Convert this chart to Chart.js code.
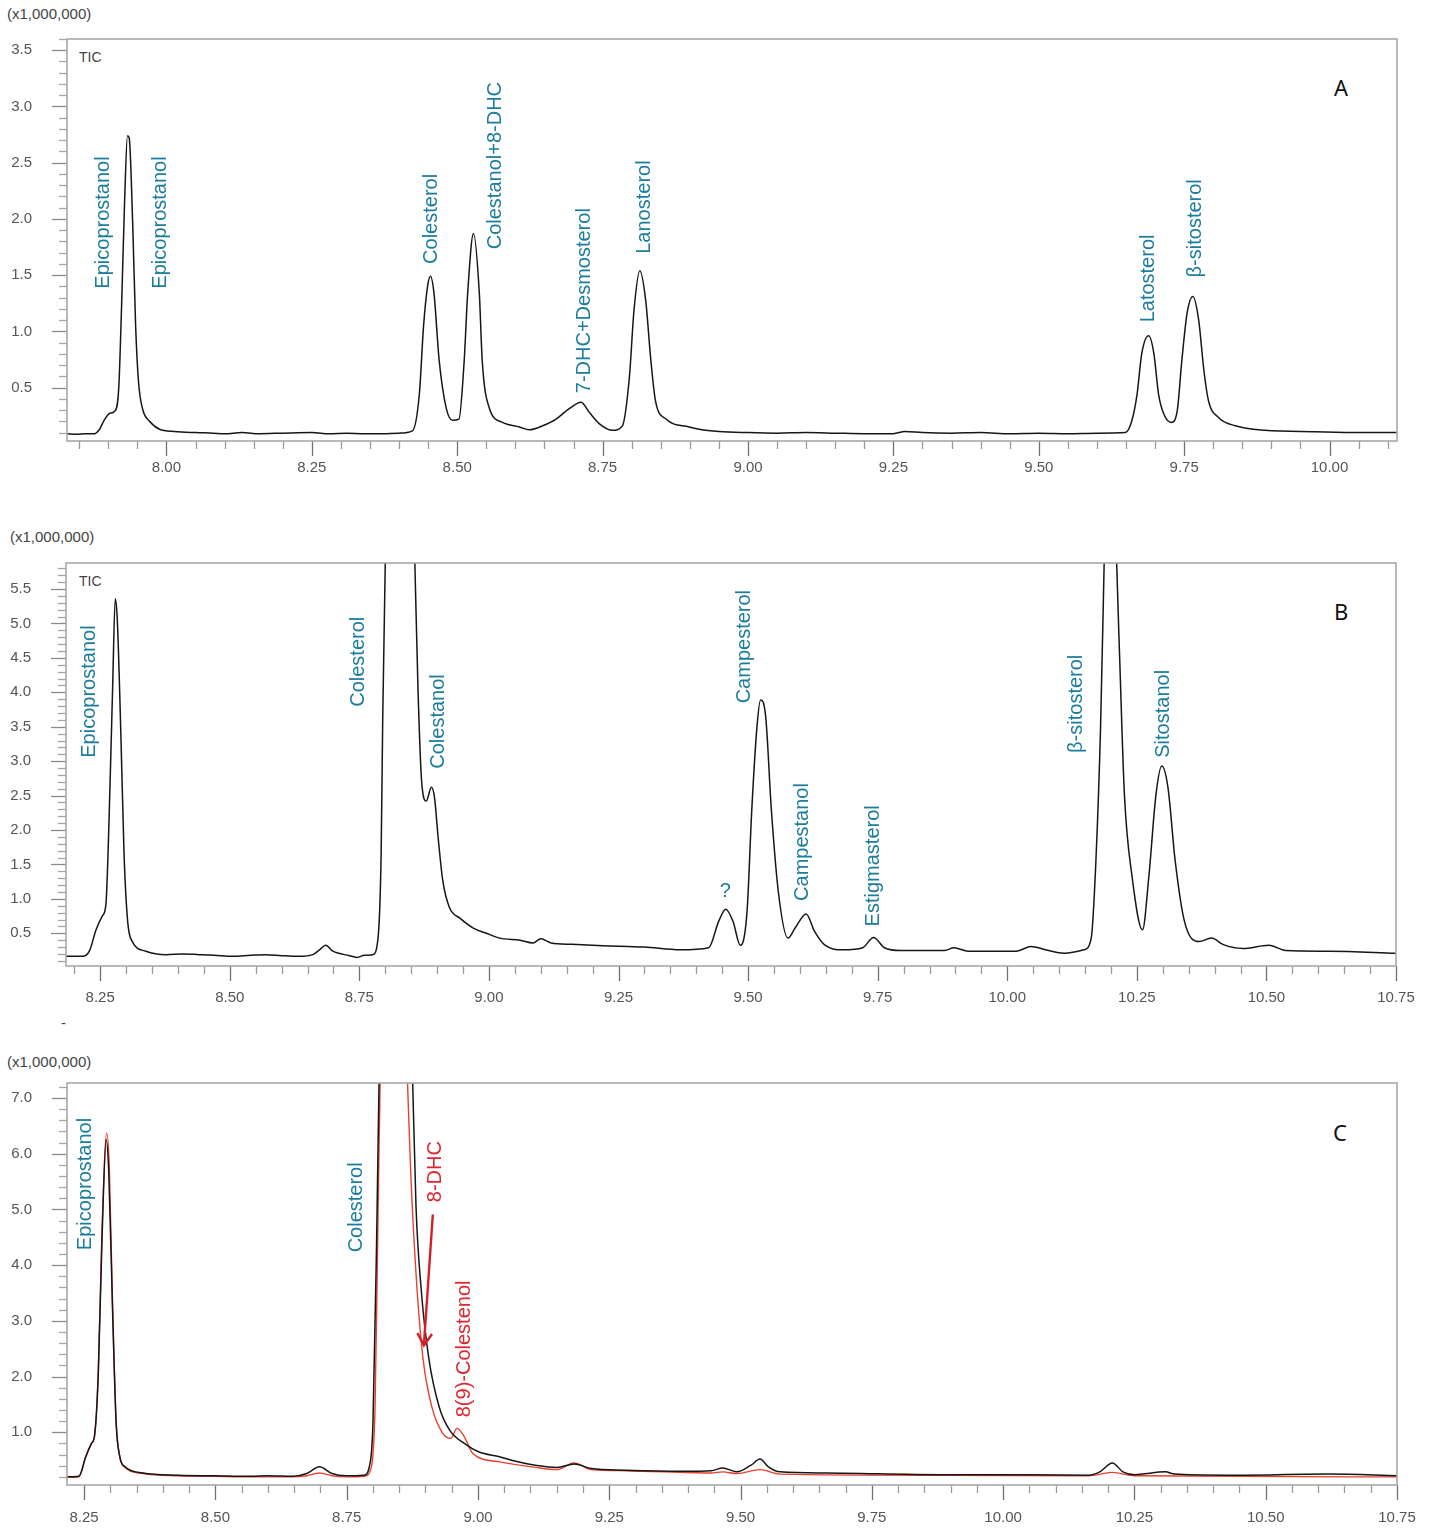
<!DOCTYPE html>
<html>
<head>
<meta charset="utf-8">
<script src="https://cdn.jsdelivr.net/npm/chart.js@4.4.1/dist/chart.umd.min.js"></script>
<style>
  body { margin: 0; background: #fff; width: 1434px; height: 1528px; position: relative; overflow: hidden;
         font-family: "Liberation Sans", Arial, sans-serif; }
  canvas { position: absolute; left: 0; }
  .unit { position: absolute; font-size: 15px; line-height: 18px; color: #444; }
  .tic { position: absolute; font-size: 14px; line-height: 16px; color: #444; }
  .tag { position: absolute; font-family: "Noto Sans", sans-serif; font-size: 22px; line-height: 26px; color: #111; }
</style>
</head>
<body>
<div class="unit" style="left:7px; top:5px;">(x1,000,000)</div>
<div class="unit" style="left:10px; top:528px;">(x1,000,000)</div>
<div class="unit" style="left:7px; top:1053px;">(x1,000,000)</div>
<div class="unit" style="left:61px; top:1014px;">-</div>
<div class="tic" style="left:79px; top:49px;">TIC</div>
<div class="tic" style="left:79px; top:573px;">TIC</div>
<div class="tag" style="left:1334px; top:74px;">A</div>
<div class="tag" style="left:1334px; top:598px;">B</div>
<div class="tag" style="left:1333px; top:1119px;">C</div>

<canvas id="chartA" width="1434" height="510" style="top:0px;"></canvas>
<canvas id="chartB" width="1434" height="510" style="top:520px;"></canvas>
<canvas id="chartC" width="1434" height="488" style="top:1040px;"></canvas>

<script>
// Panel A - TIC (retention time in min, intensity x1,000,000)
const timeA = [7.829, 7.845, 7.860, 7.876, 7.885, 7.893, 7.902, 7.911, 7.918, 7.923, 7.928, 7.933, 7.936,
  7.942, 7.947, 7.952, 7.959, 7.971, 7.988, 8.014, 8.05, 8.08, 8.10, 8.13, 8.16, 8.20, 8.25, 8.28, 8.31,
  8.34, 8.366, 8.40, 8.423, 8.435, 8.442, 8.449, 8.454, 8.460, 8.469, 8.481, 8.492, 8.503, 8.512, 8.518,
  8.528, 8.538, 8.543, 8.555, 8.578, 8.607, 8.624, 8.647, 8.660, 8.670, 8.692, 8.713, 8.727, 8.744, 8.767,
  8.784, 8.796, 8.804, 8.814, 8.824, 8.833, 8.841, 8.859, 8.899, 8.916, 8.95, 9.00, 9.05, 9.10, 9.15, 9.20,
  9.25, 9.27, 9.30, 9.35, 9.40, 9.45, 9.50, 9.55, 9.60, 9.649, 9.660, 9.669, 9.677, 9.689, 9.698, 9.706,
  9.715, 9.728, 9.738, 9.746, 9.755, 9.765, 9.775, 9.784, 9.792, 9.809, 9.838, 9.889, 9.975, 10.05, 10.116];
const ticA = [0.09, 0.085, 0.09, 0.09, 0.13, 0.21, 0.27, 0.29, 0.50, 1.25, 2.15, 2.74, 2.72,
  1.95, 1.05, 0.55, 0.31, 0.20, 0.13, 0.11, 0.10, 0.095, 0.09, 0.10, 0.09, 0.095, 0.10, 0.09, 0.095,
  0.09, 0.09, 0.095, 0.115, 0.45, 1.04, 1.40, 1.49, 1.34, 0.74, 0.32, 0.21, 0.22, 0.74, 1.34,
  1.87, 1.34, 0.74, 0.32, 0.19, 0.15, 0.125, 0.16, 0.19, 0.22, 0.31, 0.37, 0.28, 0.18, 0.12,
  0.16, 0.59, 1.19, 1.54, 1.28, 0.74, 0.38, 0.22, 0.15, 0.13, 0.11, 0.10, 0.095, 0.10, 0.095, 0.09,
  0.09, 0.11, 0.10, 0.095, 0.10, 0.09, 0.095, 0.09, 0.095, 0.10, 0.205, 0.44, 0.80, 0.96, 0.80, 0.44,
  0.265, 0.19, 0.29, 0.74, 1.16, 1.31, 1.10, 0.65, 0.38, 0.235, 0.16, 0.12, 0.107, 0.10, 0.10];

// Panel B - TIC
const timeB = [8.184, 8.216, 8.229, 8.242, 8.254, 8.261, 8.267, 8.274, 8.279, 8.283, 8.290, 8.296, 8.303,
  8.312, 8.338, 8.377, 8.41, 8.441, 8.47, 8.506, 8.54, 8.570, 8.60, 8.634, 8.660, 8.673, 8.685, 8.699,
  8.731, 8.745, 8.760, 8.776, 8.786, 8.792, 8.795, 8.800, 8.806, 8.815, 8.828, 8.842, 8.851, 8.857, 8.863,
  8.870, 8.879, 8.889, 8.895, 8.902, 8.911, 8.924, 8.944, 8.969, 8.995, 9.021, 9.06, 9.085, 9.10, 9.12,
  9.16, 9.22, 9.30, 9.369, 9.424, 9.443, 9.457, 9.471, 9.485, 9.498, 9.507, 9.517, 9.524, 9.534, 9.545,
  9.559, 9.577, 9.591, 9.612, 9.628, 9.647, 9.684, 9.721, 9.742, 9.763, 9.795, 9.879, 9.897, 9.925,
  10.018, 10.046, 10.074, 10.110, 10.148, 10.162, 10.171, 10.180, 10.187, 10.193, 10.199, 10.205, 10.211,
  10.217, 10.226, 10.241, 10.261, 10.273, 10.287, 10.298, 10.310, 10.324, 10.342, 10.370, 10.394, 10.417,
  10.454, 10.505, 10.537, 10.621, 10.751];
const ticB = [0.165, 0.165, 0.24, 0.55, 0.75, 0.92, 2.13, 4.08, 5.36, 5.05, 3.35, 1.65, 0.67,
  0.38, 0.24, 0.19, 0.20, 0.19, 0.18, 0.165, 0.18, 0.19, 0.175, 0.165, 0.19, 0.26, 0.325, 0.24,
  0.175, 0.15, 0.18, 0.19, 0.43, 1.65, 3.59, 5.9, 7.6, 8.8, 9.3, 8.8, 7.6, 5.9, 4.08,
  2.72, 2.42, 2.62, 2.47, 1.89, 1.26, 0.87, 0.72, 0.58, 0.50, 0.43, 0.40, 0.36, 0.42, 0.36,
  0.34, 0.32, 0.30, 0.26, 0.29, 0.67, 0.85, 0.67, 0.325, 0.82, 2.28, 3.49, 3.89, 3.64, 2.28,
  1.06, 0.43, 0.58, 0.78, 0.53, 0.335, 0.26, 0.29, 0.44, 0.29, 0.25, 0.25, 0.29, 0.24,
  0.24, 0.31, 0.26, 0.21, 0.26, 0.43, 1.55, 3.49, 5.9, 8.0, 9.0, 8.0, 5.9,
  4.47, 2.52, 1.31, 0.55, 1.31, 2.52, 2.93, 2.62, 1.55, 0.67, 0.38, 0.43, 0.335,
  0.28, 0.325, 0.25, 0.24, 0.21];

// Panel C - black and red traces
const timeCBlack = [8.217, 8.240, 8.253, 8.264, 8.270, 8.277, 8.284, 8.292, 8.297, 8.304, 8.311, 8.318,
  8.328, 8.362, 8.430, 8.498, 8.566, 8.60, 8.647, 8.674, 8.698, 8.722, 8.749, 8.783, 8.793, 8.800, 8.807,
  8.812, 8.825, 8.844, 8.862, 8.875, 8.882, 8.892, 8.906, 8.926, 8.946, 8.974, 9.001, 9.041, 9.076, 9.109,
  9.150, 9.183, 9.216, 9.281, 9.390, 9.444, 9.466, 9.493, 9.520, 9.537, 9.553, 9.575, 9.662, 9.880,
  10.05, 10.162, 10.184, 10.208, 10.228, 10.250, 10.309, 10.326, 10.424, 10.620, 10.750];
const ticCBlack = [0.20, 0.21, 0.56, 0.80, 0.95, 2.05, 4.45, 6.25, 5.65, 3.25, 1.16, 0.56,
  0.38, 0.27, 0.23, 0.22, 0.21, 0.22, 0.21, 0.26, 0.38, 0.26, 0.22, 0.23, 0.38, 1.16, 4.45,
  7.5, 11.0, 12.5, 11.0, 7.5, 5.05, 3.55, 2.35, 1.46, 1.04, 0.80, 0.65, 0.56, 0.47, 0.41,
  0.37, 0.43, 0.35, 0.32, 0.30, 0.31, 0.36, 0.29, 0.41, 0.52, 0.38, 0.29, 0.27, 0.24,
  0.24, 0.23, 0.29, 0.45, 0.29, 0.24, 0.29, 0.25, 0.23, 0.25, 0.22];
const timeCRed = [8.217, 8.240, 8.253, 8.264, 8.270, 8.277, 8.284, 8.293, 8.298, 8.304, 8.311, 8.318,
  8.328, 8.362, 8.430, 8.498, 8.566, 8.647, 8.674, 8.698, 8.722, 8.749, 8.783, 8.797, 8.804, 8.809,
  8.814, 8.830, 8.845, 8.858, 8.865, 8.872, 8.882, 8.895, 8.912, 8.933, 8.948, 8.960, 8.974, 8.990,
  9.041, 9.109, 9.150, 9.183, 9.216, 9.281, 9.444, 9.466, 9.493, 9.537, 9.575, 9.880, 10.162, 10.208,
  10.250, 10.750];
const ticCRed = [0.19, 0.20, 0.55, 0.80, 0.95, 2.10, 4.60, 6.37, 5.75, 3.35, 1.20, 0.56,
  0.37, 0.26, 0.22, 0.21, 0.20, 0.20, 0.22, 0.27, 0.22, 0.20, 0.21, 0.38, 1.46, 4.45,
  7.5, 11.5, 12.0, 9.5, 7.5, 5.65, 3.85, 2.35, 1.46, 0.98, 0.89, 1.07, 0.92, 0.62,
  0.47, 0.37, 0.33, 0.45, 0.33, 0.31, 0.27, 0.29, 0.26, 0.33, 0.25, 0.23, 0.22, 0.28,
  0.22, 0.20];

// Peak names: [text, time of label column, intensity at label start, colour key]
const peaksA = [
  ['Epicoprostanol', 7.893, 1.38, 'teal'], ['Epicoprostanol', 7.990, 1.38, 'teal'],
  ['Colesterol', 8.457, 1.60, 'teal'], ['Colestanol+8-DHC', 8.567, 1.73, 'teal'],
  ['7-DHC+Desmosterol', 8.720, 0.45, 'teal'], ['Lanosterol', 8.823, 1.69, 'teal'],
  ['Latosterol', 9.689, 1.08, 'teal'], ['β-sitosterol', 9.770, 1.48, 'teal']
];
const peaksB = [
  ['Epicoprostanol', 8.231, 3.05, 'teal'], ['Colesterol', 8.750, 3.79, 'teal'],
  ['Colestanol', 8.903, 2.89, 'teal'], ['Campesterol', 9.494, 3.84, 'teal'],
  ['Campestanol', 9.606, 0.97, 'teal'], ['Estigmasterol', 9.743, 0.60, 'teal'],
  ['β-sitosterol', 10.134, 3.12, 'teal'], ['Sitostanol', 10.302, 3.05, 'teal']
];
const unknownB = ['?', 9.456, 1.11];
const peaksC = [
  ['Epicoprostanol', 8.254, 4.27, 'teal'], ['Colesterol', 8.769, 4.23, 'teal'],
  ['8-DHC', 8.920, 5.13, 'red'], ['8(9)-Colestenol', 8.975, 1.27, 'red']
];
const arrowC = { fromTime: 8.914, fromVal: 4.91, toTime: 8.897, toVal: 2.56 };

const COLORS = { teal: '#1b7d9c', red: '#e0262c' };
const FONT = '"Liberation Sans", Arial, sans-serif';

function toPoints(times, vals) {
  return times.map((t, i) => ({ x: t, y: vals[i] }));
}

function isMultiple(v, step) {
  return Math.abs(v / step - Math.round(v / step)) < 1e-6;
}

// frame, minor/major ticks and peak labels
const decorPlugin = {
  id: 'decor',
  afterDraw(chart, args, opts) {
    const { ctx, chartArea: a, scales: { x, y } } = chart;
    ctx.save();

    // x ticks below the frame
    for (let k = Math.ceil(x.min / 0.05 - 1e-6); k * 0.05 <= x.max + 1e-6; k++) {
      const v = k * 0.05;
      const major = isMultiple(v, 0.25);
      const px = Math.round(x.getPixelForValue(v)) + 0.5;
      ctx.strokeStyle = major ? '#707070' : '#9a9a9a';
      ctx.lineWidth = 1.3;
      ctx.beginPath();
      ctx.moveTo(px, a.bottom);
      ctx.lineTo(px, a.bottom + (major ? 15 : 8));
      ctx.stroke();
    }
    // y ticks left of the frame
    for (let k = Math.ceil(y.min / opts.yMinor - 1e-6); k * opts.yMinor <= y.max + 1e-6; k++) {
      const v = k * opts.yMinor;
      const major = isMultiple(v, opts.yMajor);
      const py = Math.round(y.getPixelForValue(v)) + 0.5;
      ctx.strokeStyle = major ? '#8a8a8a' : '#a5a5a5';
      ctx.lineWidth = 1.3;
      ctx.beginPath();
      ctx.moveTo(a.left, py);
      ctx.lineTo(a.left - (major ? 15 : 8), py);
      ctx.stroke();
    }
    // frame
    ctx.strokeStyle = '#a8a8a8';
    ctx.lineWidth = 1.6;
    ctx.strokeRect(a.left, a.top, a.right - a.left, a.bottom - a.top);

    // rotated peak names
    ctx.font = '20px ' + FONT;
    ctx.textAlign = 'left';
    ctx.textBaseline = 'alphabetic';
    (opts.peaks || []).forEach(([text, t, v, c]) => {
      const px = x.getPixelForValue(t);
      const py = y.getPixelForValue(v);
      ctx.save();
      ctx.fillStyle = COLORS[c];
      ctx.translate(px + 5, py);
      ctx.rotate(-Math.PI / 2);
      ctx.fillText(text, 0, 0);
      ctx.restore();
    });
    if (opts.unknown) {
      const [text, t, v] = opts.unknown;
      ctx.fillStyle = COLORS.teal;
      ctx.textAlign = 'center';
      ctx.textBaseline = 'middle';
      ctx.fillText(text, x.getPixelForValue(t), y.getPixelForValue(v));
    }
    if (opts.arrow) {
      const ar = opts.arrow;
      const x1 = x.getPixelForValue(ar.fromTime), y1 = y.getPixelForValue(ar.fromVal);
      const x2 = x.getPixelForValue(ar.toTime), y2 = y.getPixelForValue(ar.toVal);
      const ang = Math.atan2(y2 - y1, x2 - x1);
      ctx.strokeStyle = '#d41f27';
      ctx.lineWidth = 2.4;
      ctx.beginPath();
      ctx.moveTo(x1, y1);
      ctx.lineTo(x2, y2);
      ctx.moveTo(x2 - 14 * Math.cos(ang - 0.55), y2 - 14 * Math.sin(ang - 0.55));
      ctx.lineTo(x2, y2);
      ctx.lineTo(x2 - 14 * Math.cos(ang + 0.55), y2 - 14 * Math.sin(ang + 0.55));
      ctx.stroke();
    }
    ctx.restore();
  }
};

function makeChart(id, cfg) {
  const tickFont = { family: FONT, size: 15 };
  return new Chart(document.getElementById(id), {
    type: 'line',
    data: { datasets: cfg.datasets },
    plugins: [decorPlugin],
    options: {
      responsive: false,
      animation: false,
      events: [],
      layout: { padding: { top: cfg.top, right: cfg.right, left: 0, bottom: 0 } },
      elements: {
        point: { radius: 0 },
        line: { borderWidth: 1.5, cubicInterpolationMode: 'monotone', fill: false }
      },
      plugins: {
        legend: { display: false },
        tooltip: { enabled: false },
        decor: { yMinor: cfg.yMinor, yMajor: cfg.yMajor, peaks: cfg.peaks, unknown: cfg.unknown, arrow: cfg.arrow }
      },
      scales: {
        x: {
          type: 'linear', min: cfg.xMin, max: cfg.xMax,
          // fixed axis height; edge labels must not shrink the plot area
          afterFit: s => { s.height = cfg.xHeight; s.paddingLeft = 0; s.paddingRight = 0; },
          grid: { display: false, drawTicks: false },
          border: { display: false },
          ticks: {
            stepSize: 0.25, includeBounds: false, autoSkip: false, maxRotation: 0,
            padding: cfg.xPad, color: '#555', font: tickFont,
            callback: v => Number(v).toFixed(2)
          }
        },
        y: {
          type: 'linear', min: cfg.yMin, max: cfg.yMax,
          // fixed axis width; tick padding must not push the plot area down
          afterFit: s => { s.width = cfg.yWidth; s.paddingTop = 0; s.paddingBottom = 0; },
          grid: { display: false, drawTicks: false },
          border: { display: false },
          ticks: {
            stepSize: cfg.yMajor, includeBounds: false, autoSkip: false,
            padding: 35, color: '#555', font: tickFont,
            callback: v => Number(v).toFixed(1)
          }
        }
      }
    }
  });
}

makeChart('chartA', {
  datasets: [{ data: toPoints(timeA, ticA), borderColor: '#161616' }],
  xMin: 7.829, xMax: 10.116, yMin: 0.025, yMax: 3.6,
  top: 39, right: 37, xHeight: 69, yWidth: 67, xPad: 18,
  yMinor: 0.1, yMajor: 0.5, peaks: peaksA
});

makeChart('chartB', {
  datasets: [{ data: toPoints(timeB, ticB), borderColor: '#161616' }],
  xMin: 8.184, xMax: 10.75, yMin: 0.025, yMax: 5.878,
  top: 43, right: 38, xHeight: 64, yWidth: 66, xPad: 23,
  yMinor: 0.1, yMajor: 0.5, peaks: peaksB, unknown: unknownB
});

makeChart('chartC', {
  datasets: [
    { data: toPoints(timeCBlack, ticCBlack), borderColor: '#161616' },
    { data: toPoints(timeCRed, ticCRed), borderColor: '#e8402c', borderWidth: 1.4 }
  ],
  xMin: 8.2174, xMax: 10.75, yMin: 0.054, yMax: 7.27,
  top: 43, right: 37, xHeight: 43, yWidth: 67, xPad: 24,
  yMinor: 0.2, yMajor: 1, peaks: peaksC, arrow: arrowC
});
</script>
</body>
</html>
